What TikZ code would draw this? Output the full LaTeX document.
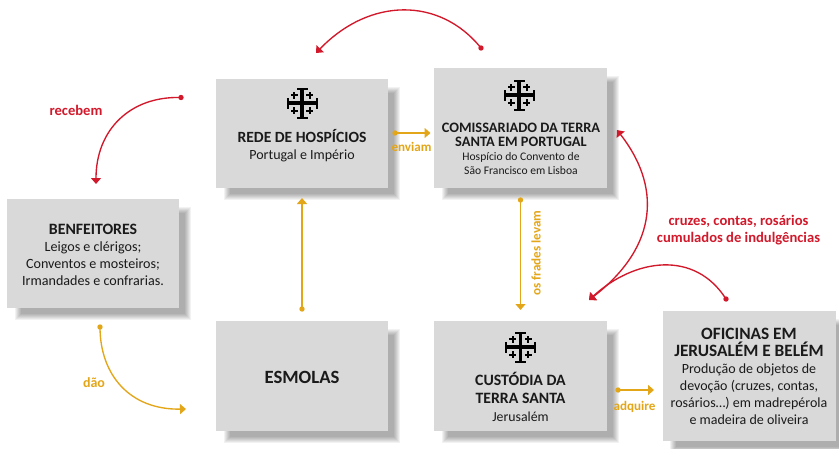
\documentclass[tikz,border=0pt]{standalone}
\usepackage{fontspec}
\setmainfont{Carlito}
\usetikzlibrary{arrows.meta,backgrounds}
\definecolor{boxgray}{HTML}{D9D9D9}
\definecolor{redc}{HTML}{D2192B}
\definecolor{goldc}{HTML}{E4A619}
\definecolor{inkc}{HTML}{1A1A1A}
\tikzset{
  x=1pt,y=-1pt,
  box/.style={fill=boxgray,draw=none,inner sep=0pt,align=center,text=inkc},
  redarrow/.style={draw=redc,line width=1.35pt,-{Triangle[length=6pt,width=10pt]}},
  goldarrow/.style={draw=goldc,line width=1.35pt,-{Triangle[length=6pt,width=10pt]}},
  reddot/.style={fill=redc,draw=none},
  golddot/.style={fill=goldc,draw=none},
  redlabel/.style={text=redc,font=\fs{14.6}{17}\bfseries,align=center,inner sep=0pt},
  goldlabel/.style={text=goldc,font=\fs{13.1}{15}\bfseries,align=center,inner sep=0pt},
}
\newcommand{\fs}[2]{\fontsize{#1}{#2}\selectfont}
\newcommand{\hd}[2]{{\fs{#1}{#1}\bfseries #2}}
\newcommand{\jcross}[1]{%
  \begin{scope}[shift={(#1)}]
    \fill[black] (-1.8,-15.5) rectangle (1.8,15.5);
    \fill[black] (-15.5,-1.8) rectangle (15.5,1.8);
    \fill[black] (-5.5,-15.5) rectangle (5.5,-13.5);
    \fill[black] (-5.5,15.5) rectangle (5.5,13.5);
    \fill[black] (-15.5,-5.5) rectangle (-13.5,5.5);
    \fill[black] (15.5,-5.5) rectangle (13.5,5.5);
    \foreach \a/\b in {-7.7/-7.7,7.7/-7.7,-7.7/7.7,7.7/7.7}{
      \fill[black] (\a-3.5,\b-1.15) rectangle (\a+3.5,\b+1.15);
      \fill[black] (\a-1.15,\b-3.5) rectangle (\a+1.15,\b+3.5);
    }
  \end{scope}}
\newcommand{\softshadow}[1]{%
  \foreach \g in {0,1,2,3,4,5,6}{
    \fill[black,opacity=.05] ([shift={(14-\g,14-\g)}]#1.north west) rectangle ([shift={(6+\g,6+\g)}]#1.south east);
  }}
\begin{document}
\begin{tikzpicture}
\useasboundingbox (0,0) rectangle (839,448);

\node[box,minimum width=172pt,minimum height=109pt] (rede) at (302,133.5) {};
\node[box,minimum width=173pt,minimum height=120pt] (comis) at (520.5,128) {};
\node[box,minimum width=173pt,minimum height=110pt] (cust) at (520.5,376) {};
\node[box,minimum width=173pt,minimum height=130pt] (ofic) at (749,376) {};
\node[box,minimum width=172pt,minimum height=109pt] (benf) at (93,253.5) {};
\node[box,minimum width=172pt,minimum height=110pt] (esm) at (302,376) {};

\begin{scope}[on background layer]
  \fill[white] (0,0) rectangle (839,448);
  \clip (0,0) rectangle (839,448);
  \softshadow{rede}\softshadow{comis}\softshadow{cust}\softshadow{ofic}\softshadow{benf}\softshadow{esm}
\end{scope}

\jcross{302,103}
\jcross{519,95}
\jcross{520.5,347}

\node[box,fill=none,font=\fs{14}{17}] (redet) at (302,146) {\hd{15.6}{REDE DE HOSPÍCIOS}\\Portugal e Império};
\node[box,fill=none,font=\fs{11.6}{14}] (comist) at (521,149) {\hd{14.4}{COMISSARIADO DA TERRA}\\\hd{14.4}{SANTA EM PORTUGAL}\\Hospício do Convento de\\São Francisco em Lisboa};
\node[box,fill=none,font=\fs{13.8}{18}] (custt) at (520.5,397) {\hd{15.8}{CUSTÓDIA DA}\\\hd{15.8}{TERRA SANTA}\\Jerusalém};
\node[box,fill=none,font=\fs{14}{17}] (ofict) at (749,376) {\hd{17.3}{OFICINAS EM}\\\hd{17.3}{JERUSALÉM E BELÉM}\\Produção de objetos de\\devoção (cruzes, contas,\\rosários…) em madrepérola\\e madeira de oliveira};
\node[box,fill=none,font=\fs{14.1}{17}] (benft) at (93,255) {\hd{15.8}{BENFEITORES}\\Leigos e clérigos;\\Conventos e mosteiros;\\Irmandades e confrarias.};
\node[box,fill=none,font=\fs{18.7}{20}\bfseries] (esmt) at (302,377) {ESMOLAS};

\coordinate (a1s) at (481,48);   \coordinate (a1e) at (316,53);
\coordinate (a2s) at (181,97.5); \coordinate (a2e) at (96,184);
\coordinate (a3s) at (100,327);  \coordinate (a3e) at (186,409);
\coordinate (a4s) at (302,309);  \coordinate (a4e) at (302,198);
\coordinate (a5s) at (395,133);  \coordinate (a5e) at (430.5,133);
\coordinate (a6s) at (520.5,200);\coordinate (a6e) at (520.5,310);
\coordinate (a7s) at (618,390);  \coordinate (a7e) at (654,390);
\coordinate (a8s) at (726,299);  \coordinate (a8e) at (589,300);
\coordinate (a9s) at (617,130);  \coordinate (a9e) at (589,300);

\draw[redarrow] (a1s) .. controls (440,-3) and (370,-3) .. (a1e);
\draw[redarrow] (a2s) .. controls (130,96) and (96,130) .. (a2e);
\draw[goldarrow] (a3s) .. controls (100,375) and (130,410) .. (a3e);
\draw[goldarrow] (a4s) -- (a4e);
\draw[goldarrow] (a5s) -- (a5e);
\draw[goldarrow] (a6s) -- (a6e);
\draw[goldarrow] (a7s) -- (a7e);
\draw[redarrow] (a8s) .. controls (695,250) and (635,258) .. (a8e);
\draw[draw=redc,line width=1.35pt,{Triangle[length=6pt,width=10pt]}-{Triangle[length=6pt,width=10pt]}] (a9s) .. controls (660,185) and (660,245) .. (a9e);

\foreach \c in {a1s,a2s,a8s}{\fill[reddot] (\c) circle[radius=2.7];}
\foreach \c in {a3s,a4s,a5s,a6s,a7s}{\fill[golddot] (\c) circle[radius=2.7];}

\node[redlabel] (l1) at (76,110) {recebem};
\node[goldlabel,font=\fs{14}{15}\bfseries] (l2) at (94,383) {dão};
\node[goldlabel] (l3) at (411.5,147) {enviam};
\node[goldlabel,rotate=90] (l4) at (536,253) {os frades levam};
\node[goldlabel] (l5) at (634.5,407) {adquire};
\node[redlabel] (l6) at (738.5,230) {cruzes, contas, rosários\\cumulados de indulgências};
\end{tikzpicture}
\end{document}
